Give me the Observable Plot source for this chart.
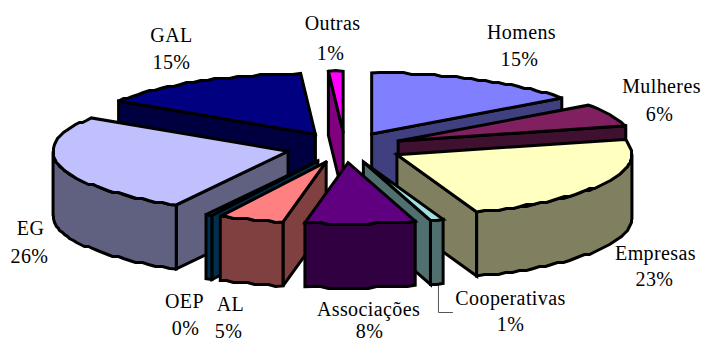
<!DOCTYPE html>
<html><head><meta charset="utf-8">
<style>html,body{margin:0;padding:0;background:#fff}</style>
<script src="https://cdn.jsdelivr.net/npm/d3@7"></script>
<script src="https://cdn.jsdelivr.net/npm/@observablehq/plot@0.6"></script>
</head><body><div id="chart"></div>
<script>
const categories = ["Homens","Mulheres","Empresas","Cooperativas","Associações","AL","OEP","EG","GAL","Outras"];
const values = [15, 6, 23.49, 0.9, 7.55, 4.5, 0.45, 26.31, 14.8, 1];
const percentLabels = ["15%","6%","23%","1%","8%","5%","0%","26%","15%","1%"];
const topColors = ["#8080FF","#802060","#FFFFC0","#A0E0E0","#600080","#FF8080","#0060A0","#C0C0FF","#000080","#FF00FF"];
const sideColors = ["#404080","#401030","#808060","#507070","#300040","#804040","#003050","#606080","#000040","#800080"];

// layout of the 3D pie
const W = 703, H = 343, cx = 344.5, cy = 147, rx = 235, ry = 61, depth = 64, explode = 0.25;
const paintOrder = ["Outras","GAL","Homens","Mulheres","EG","Empresas","OEP","AL","Cooperativas","Associações"];
const labelPos = {
  Homens:[[521,32],[519,59]], Mulheres:[[661,86],[659,114]], Empresas:[[655,253],[654,279]],
  Cooperativas:[[510,298],[510,324]], "Associações":[[368,309],[369,331]], AL:[[230,304],[228,331]],
  OEP:[[184,301],[185,328]], EG:[[30,228],[29,256]], GAL:[[171,35],[171,62]], Outras:[[332,23],[330,53]]
};

const rad = d => d * Math.PI / 180;
const total = d3.sum(values);
let acc = 0;
const slices = categories.map((name, i) => {
  const a0 = acc / total * 360; acc += values[i]; const a1 = acc / total * 360;
  const m = (a0 + a1) / 2;
  return {name, i, a0, a1, ax: cx + explode * rx * Math.sin(rad(m)), ay: cy - explode * ry * Math.cos(rad(m))};
});
const pt = (s, a) => [s.ax + rx * Math.sin(rad(a)), s.ay - ry * Math.cos(rad(a))];
const stair = p => [Math.round(p[0]), Math.round(p[1] / 2) * 2];
function arc(s, a0, a1) {
  const n = Math.max(1, Math.ceil((a1 - a0) / 2)), out = [];
  for (let k = 0; k <= n; k++) {
    const a = a0 + (a1 - a0) * k / n, p = pt(s, a);
    out.push(k === 0 || k === n ? p : stair(p));
  }
  return out;
}
const rows = [];
function poly(id, color, pts) {
  pts.concat([pts[0], pts[1]]).forEach(p => rows.push({id, color, x: p[0], y: p[1]}));
}
const down = p => [p[0], p[1] + depth];
for (const name of paintOrder) {
  const s = slices.find(d => d.name === name), side = sideColors[s.i], apex = [s.ax, s.ay];
  const wall = a => { const o = pt(s, a); poly(name + a, side, [apex, o, down(o), down(apex)]); };
  if (s.a1 < 180) wall(s.a1);
  if (s.a0 > 180) wall(s.a0);
  const w0 = Math.max(s.a0, 90), w1 = Math.min(s.a1, 270);
  if (w1 > w0) {
    const c = arc(s, w0, w1);
    poly(name + "outer", side, c.concat(c.map(down).reverse()));
  }
  poly(name + "top", topColors[s.i], [apex].concat(arc(s, s.a0, s.a1)));
}
const nameRows = categories.map(n => ({t: n, x: labelPos[n][0][0], y: labelPos[n][0][1]}));
const pctRows = categories.map((n, i) => ({t: percentLabels[i], x: labelPos[n][1][0], y: labelPos[n][1][1]}));
const coop = slices.find(d => d.name === "Cooperativas");
const leaderStart = down(pt(coop, coop.a0 + 1.2));
const leader = [{x: leaderStart[0], y: leaderStart[1]}, {x: leaderStart[0], y: 312}, {x: 452, y: 312}];
const textOpts = {x: "x", y: "y", text: "t", fontFamily: "Liberation Serif", fontSize: 20, fill: "#000", lineAnchor: "middle"};

const chart = Plot.plot({
  width: W, height: H, margin: 0,
  x: {domain: [0, W], range: [0, W], axis: null},
  y: {domain: [0, H], range: [0, H], axis: null},
  color: {type: "identity"},
  style: {background: "#fff", letterSpacing: "0.4px"},
  marks: [
    Plot.line(leader, {x: "x", y: "y", stroke: "#555", strokeWidth: 1}),
    Plot.line(rows, {x: "x", y: "y", z: "id", fill: "color", stroke: "#000", strokeWidth: 3,
      strokeLinejoin: "miter", strokeMiterlimit: 3, curve: "linear"}),
    Plot.text(nameRows, textOpts),
    Plot.text(pctRows, textOpts)
  ]
});
document.getElementById("chart").appendChild(chart);
</script></body></html>
